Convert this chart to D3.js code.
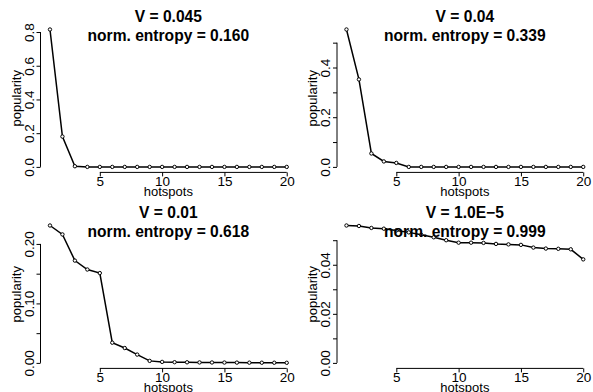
<!DOCTYPE html>
<html>
<head>
<meta charset="utf-8">
<script src="https://cdn.jsdelivr.net/npm/d3@7"></script>
<style>
  body { margin: 0; background: white; }
  text { font-family: "Liberation Sans", Arial, sans-serif; fill: black; }
</style>
</head>
<body>
<div id="chart"></div>
<script>
// hotspot index (x) shared by all four panels
var hotspots = [1, 2, 3, 4, 5, 6, 7, 8, 9, 10, 11, 12, 13, 14, 15, 16, 17, 18, 19, 20]
var xTicks = [5, 10, 15, 20]

// popularity of every hotspot, one array per panel
var popV045 = [0.815, 0.180, 0.004, 0, 0, 0, 0, 0, 0, 0, 0, 0, 0, 0, 0, 0, 0, 0, 0, 0]
var popV04 = [0.553, 0.352, 0.054, 0.022, 0.016, 0, 0, 0, 0, 0, 0, 0, 0, 0, 0, 0, 0, 0, 0, 0]
var popV01 = [0.231, 0.216, 0.172, 0.157, 0.151, 0.034, 0.025, 0.014, 0.0034, 0.0017,
              0.0012, 0.001, 0.0008, 0.0007, 0.0006, 0.0005, 0.0004, 0.0003, 0.0003, 0.0002]
var popV1e5 = [0.0560, 0.0558, 0.0550, 0.0547, 0.0540, 0.0532, 0.0522, 0.0512, 0.0500, 0.0490,
               0.0490, 0.0489, 0.0485, 0.0483, 0.0481, 0.0470, 0.0466, 0.0465, 0.0463, 0.0422]

// titles
var titlesV = ["V = 0.045", "V = 0.04", "V = 0.01", "V = 1.0E\u22125"]
var titlesEntropy = ["norm. entropy = 0.160", "norm. entropy = 0.339", "norm. entropy = 0.618", "norm. entropy = 0.999"]

// y ticks (all drawn) and the ones that get a label
var yTicks = [[0, 0.2, 0.4, 0.6, 0.8], [0, 0.1, 0.2, 0.3, 0.4, 0.5], [0, 0.05, 0.10, 0.15, 0.20], [0, 0.01, 0.02, 0.03, 0.04, 0.05]]
var yLabels = [["0.0", "0.2", "0.4", "0.6", "0.8"], ["0.0", "", "0.2", "", "0.4", ""], ["0.00", "", "0.10", "", "0.20"], ["0.00", "", "0.02", "", "0.04", ""]]

var series = [popV045, popV04, popV01, popV1e5]

var WIDTH = 593, HEIGHT = 392
var PANEL_W = WIDTH / 2, PANEL_H = 196
var PLOT = {LEFT: 40.5, RIGHT: 296.2, TOP: 24, BOTTOM: 172.4}
var TICK_FONT = "13.5px", LABEL_FONT = "13px", TITLE_FONT = "15.6px"

var svg = d3.select("#chart").append("svg")
  .attr("width", WIDTH)
  .attr("height", HEIGHT)

svg.append("rect").attr("width", WIDTH).attr("height", HEIGHT).attr("fill", "white")

function drawPanel(i) {
  var values = series[i]
  var g = svg.append("g")
    .attr("transform", `translate(${(i % 2) * PANEL_W}, ${Math.floor(i / 2) * PANEL_H})`)

  // R style: 4% padding around the data range
  var xPad = 0.04 * (d3.max(hotspots) - d3.min(hotspots))
  var x = d3.scaleLinear()
    .domain([d3.min(hotspots) - xPad, d3.max(hotspots) + xPad])
    .range([PLOT.LEFT, PLOT.RIGHT])

  var yMax = d3.max(values)
  var y = d3.scaleLinear()
    .domain([-0.04 * yMax, yMax * 1.04])
    .range([PLOT.BOTTOM, PLOT.TOP])

  // x axis, line spans only the ticks
  var xAxis = g.append("g")
    .attr("transform", `translate(0, ${PLOT.BOTTOM})`)
    .call(d3.axisBottom(x).tickValues(xTicks).tickSizeInner(4).tickSizeOuter(0).tickPadding(0))
  xAxis.select(".domain").remove()
  xAxis.append("line")
    .attr("x1", x(xTicks[0])).attr("x2", x(xTicks[xTicks.length - 1]))
    .attr("stroke", "black")
  xAxis.selectAll("text").style("font-size", TICK_FONT).attr("fill", "black")

  // y axis with rotated labels
  var ticks = yTicks[i]
  var yAxis = g.append("g")
    .attr("transform", `translate(${PLOT.LEFT}, 0)`)
    .call(d3.axisLeft(y).tickValues(ticks).tickSizeInner(4).tickSizeOuter(0)
      .tickFormat(function(d, k) { return yLabels[i][k] }))
  yAxis.select(".domain").remove()
  yAxis.append("line")
    .attr("y1", y(ticks[0])).attr("y2", y(ticks[ticks.length - 1]))
    .attr("stroke", "black")
  yAxis.selectAll(".tick text")
    .attr("x", null).attr("dy", null)
    .attr("transform", "translate(-7, 0) rotate(-90)")
    .attr("text-anchor", "middle")
    .style("font-size", TICK_FONT)
    .attr("fill", "black")

  // axis titles
  g.append("text")
    .attr("x", (PLOT.LEFT + PLOT.RIGHT) / 2)
    .attr("y", 196)
    .attr("text-anchor", "middle")
    .style("font-size", LABEL_FONT)
    .text("hotspots")

  g.append("text")
    .attr("transform", `translate(20.5, ${(PLOT.TOP + PLOT.BOTTOM) / 2}) rotate(-90)`)
    .attr("text-anchor", "middle")
    .style("font-size", LABEL_FONT)
    .text("popularity")

  // line + small open points
  var line = d3.line()
    .x(function(d, k) { return x(hotspots[k]) })
    .y(function(d) { return y(d) })

  g.append("path")
    .datum(values)
    .attr("d", line)
    .attr("fill", "none")
    .attr("stroke", "black")
    .attr("stroke-width", 1.5)

  g.selectAll("circle")
    .data(values)
    .enter()
    .append("circle")
    .attr("cx", function(d, k) { return x(hotspots[k]) })
    .attr("cy", function(d) { return y(d) })
    .attr("r", 1.7)
    .attr("fill", "white")
    .attr("stroke", "black")
    .attr("stroke-width", 1)

  // two line bold title, drawn on top
  var cx = (PLOT.LEFT + PLOT.RIGHT) / 2
  g.append("text")
    .attr("x", cx).attr("y", 22)
    .attr("text-anchor", "middle")
    .style("font-size", TITLE_FONT).style("font-weight", "bold")
    .text(titlesV[i])
  g.append("text")
    .attr("x", cx).attr("y", 41)
    .attr("text-anchor", "middle")
    .style("font-size", TITLE_FONT).style("font-weight", "bold")
    .text(titlesEntropy[i])
}

for (var i = 0; i < 4; i++) drawPanel(i)
</script>
</body>
</html>
